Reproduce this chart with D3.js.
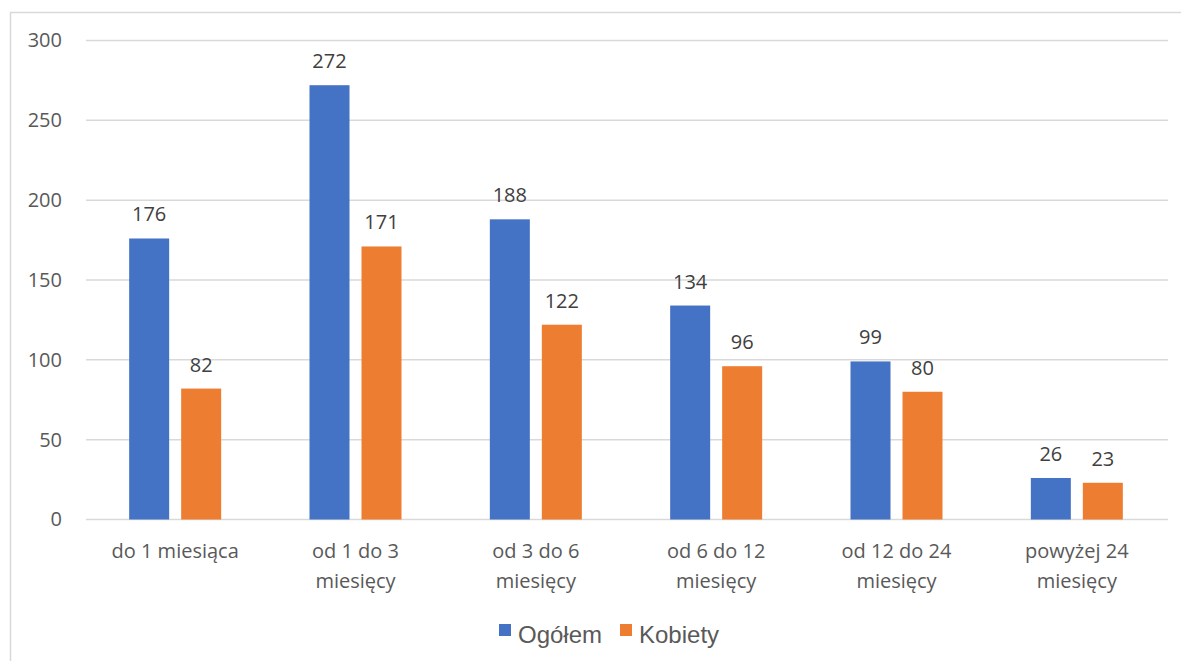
<!DOCTYPE html>
<html>
<head>
<meta charset="utf-8">
<script src="https://cdn.jsdelivr.net/npm/d3@7"></script>
<style>
  body { margin: 0; background: #fff; }
  svg { display: block; }
</style>
</head>
<body>
<svg id="chart" width="1181" height="661"></svg>
<script>
// data
var categories = [
  ["do 1 miesiąca"],
  ["od 1 do 3", "miesięcy"],
  ["od 3 do 6", "miesięcy"],
  ["od 6 do 12", "miesięcy"],
  ["od 12 do 24", "miesięcy"],
  ["powyżej 24", "miesięcy"]
];
var seriesNames = ["Ogółem", "Kobiety"];
var ogolem = [176, 272, 188, 134, 99, 26];
var kobiety = [82, 171, 122, 96, 80, 23];
var yTicks = [0, 50, 100, 150, 200, 250, 300];

var colors = ["#4472C4", "#ED7D31"];
var font = "'Open Sans', 'Liberation Sans', sans-serif";

var svg = d3.select("#chart");

// outer frame
svg.append("rect")
  .attr("x", 10.5).attr("y", 12.5)
  .attr("width", 1180).attr("height", 660)
  .attr("fill", "none")
  .attr("stroke", "#d9d9d9")
  .attr("stroke-width", 1.5);

var plot = { left: 86, right: 1168, top: 40.5, bottom: 519.5 };

var x = d3.scaleBand()
  .domain(d3.range(categories.length))
  .range([plot.left, plot.right]);

var y = d3.scaleLinear()
  .domain([0, 300])
  .range([plot.bottom, plot.top]);

// gridlines
svg.append("g")
  .selectAll("line")
  .data(yTicks)
  .enter()
  .append("line")
  .attr("x1", plot.left).attr("x2", plot.right)
  .attr("y1", function (d) { return y(d); })
  .attr("y2", function (d) { return y(d); })
  .attr("stroke", "#d9d9d9")
  .attr("stroke-width", 1.5);

// y axis labels
var yAxis = d3.axisLeft(y).tickValues(yTicks).tickSize(0).tickPadding(0);
var yg = svg.append("g")
  .attr("transform", "translate(62,0)")
  .call(yAxis);
yg.select(".domain").remove();
yg.selectAll("text")
  .attr("fill", "#595959")
  .style("font-family", font)
  .style("font-size", "20px");

// bars
var barW = 40, gap = 12;
var series = [ogolem, kobiety];

function barX(i, s) {
  return x(i) + x.bandwidth() / 2 - (barW + gap / 2) + s * (barW + gap) - 1;
}

series.forEach(function (vals, s) {
  var g = svg.append("g");
  g.selectAll("rect")
    .data(vals)
    .enter()
    .append("rect")
    .attr("x", function (d, i) { return barX(i, s); })
    .attr("y", function (d) { return y(d); })
    .attr("width", barW)
    .attr("height", function (d) { return y(0) - y(d); })
    .attr("fill", colors[s]);

  g.selectAll("text")
    .data(vals)
    .enter()
    .append("text")
    .attr("x", function (d, i) { return barX(i, s) + barW / 2; })
    .attr("y", function (d) { return y(d) - 17; })
    .attr("text-anchor", "middle")
    .attr("fill", "#404040")
    .style("font-family", font)
    .style("font-size", "20px")
    .text(function (d) { return d; });
});

// category labels
var cat = svg.append("g");
categories.forEach(function (lines, i) {
  var t = cat.append("text")
    .attr("text-anchor", "middle")
    .attr("fill", "#595959")
    .style("font-family", font)
    .style("font-size", "20px");
  lines.forEach(function (line, j) {
    t.append("tspan")
      .attr("x", x(i) + x.bandwidth() / 2 - 1)
      .attr("y", 558 + j * 30)
      .text(line);
  });
});

// legend
var legend = svg.append("g");
var legendX = [499, 620];
seriesNames.forEach(function (name, s) {
  legend.append("rect")
    .attr("x", legendX[s]).attr("y", 624)
    .attr("width", 12).attr("height", 12)
    .attr("fill", colors[s]);
  legend.append("text")
    .attr("x", legendX[s] + 19).attr("y", 643)
    .attr("fill", "#595959")
    .style("font-family", "'Liberation Sans', Arial, sans-serif")
    .style("font-size", "24px")
    .text(name);
});
</script>
</body>
</html>
